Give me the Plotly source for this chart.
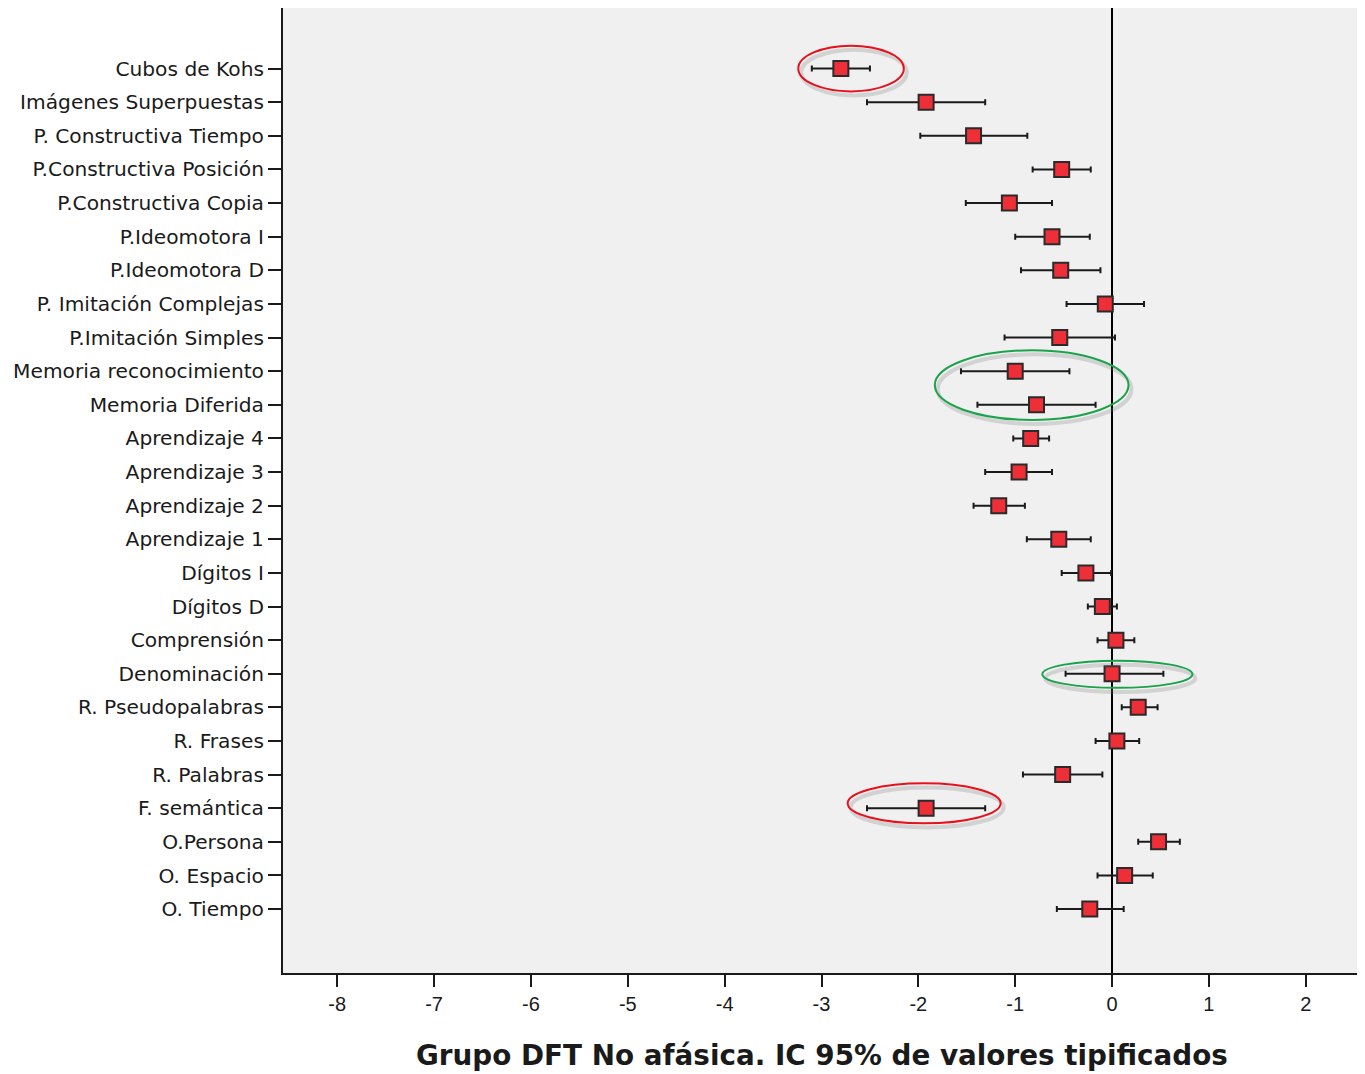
import plotly.graph_objects as go

tests = ["Cubos de Kohs", "Imágenes Superpuestas", "P. Constructiva Tiempo",
         "P.Constructiva Posición", "P.Constructiva Copia", "P.Ideomotora I",
         "P.Ideomotora D", "P. Imitación Complejas", "P.Imitación Simples",
         "Memoria reconocimiento", "Memoria Diferida", "Aprendizaje 4",
         "Aprendizaje 3", "Aprendizaje 2", "Aprendizaje 1", "Dígitos I",
         "Dígitos D", "Comprensión", "Denominación", "R. Pseudopalabras",
         "R. Frases", "R. Palabras", "F. semántica", "O.Persona",
         "O. Espacio", "O. Tiempo"]

means = [-2.80, -1.92, -1.43, -0.52, -1.06, -0.62, -0.53, -0.07, -0.54,
         -1.00, -0.78, -0.84, -0.96, -1.17, -0.55, -0.27, -0.10, 0.04,
         0.00, 0.27, 0.05, -0.51, -1.92, 0.48, 0.13, -0.23]
ci_low = [-3.10, -2.53, -1.98, -0.82, -1.51, -1.00, -0.94, -0.47, -1.11,
          -1.56, -1.39, -1.02, -1.31, -1.43, -0.88, -0.52, -0.25, -0.15,
          -0.48, 0.10, -0.17, -0.92, -2.53, 0.27, -0.15, -0.57]
ci_high = [-2.50, -1.31, -0.875, -0.22, -0.62, -0.23, -0.12, 0.33, 0.03,
           -0.44, -0.17, -0.65, -0.62, -0.90, -0.22, -0.01, 0.05, 0.23,
           0.53, 0.47, 0.28, -0.10, -1.31, 0.70, 0.42, 0.12]

x_ticks = [-8, -7, -6, -5, -4, -3, -2, -1, 0, 1, 2]

# highlight ellipses: (first row, last row, x0, x1, color)
highlights = [
    ("Cubos de Kohs", "Cubos de Kohs", -3.24, -2.15, "#e8101a"),
    ("Memoria reconocimiento", "Memoria Diferida", -1.83, 0.17, "#1aa34a"),
    ("Denominación", "Denominación", -0.72, 0.83, "#1aa34a"),
    ("F. semántica", "F. semántica", -2.73, -1.15, "#e8101a"),
]
highlight_pad = {  # vertical padding (rows) above / below
    "Cubos de Kohs": (0.68, 0.68),
    "Memoria reconocimiento": (0.62, 0.45),
    "Denominación": (0.39, 0.42),
    "F. semántica": (0.74, 0.45),
}

ypos = list(range(len(tests)))
err_plus = [h - m for h, m in zip(ci_high, means)]
err_minus = [m - l for m, l in zip(means, ci_low)]

fig = go.Figure()
fig.add_trace(go.Scatter(
    x=means, y=ypos, mode="markers",
    marker=dict(symbol="square", size=15, color="#ee2f37",
                line=dict(color="#2a2a2a", width=2)),
    error_x=dict(type="data", array=err_plus, arrayminus=err_minus,
                 color="#1a1a1a", thickness=2, width=3),
    showlegend=False, hoverinfo="x+y",
))

shapes = []
for first, last, x0, x1, col in highlights:
    i0 = tests.index(first)
    i1 = tests.index(last)
    up, down = highlight_pad[first]
    y0 = i0 - up
    y1 = i1 + down
    # soft shadow
    shapes.append(dict(type="circle", xref="x", yref="y",
                       x0=x0 + 0.03, x1=x1 + 0.03, y0=y0 + 0.12, y1=y1 + 0.12,
                       line=dict(color="rgba(120,120,120,0.25)", width=4),
                       layer="above"))
    shapes.append(dict(type="circle", xref="x", yref="y",
                       x0=x0, x1=x1, y0=y0, y1=y1,
                       line=dict(color=col, width=2), layer="above"))

fig.update_layout(
    width=1357, height=1066,
    margin=dict(l=275, r=5, t=0, b=101),
    paper_bgcolor="white", plot_bgcolor="#f0f0f0",
    font=dict(family="DejaVu Sans", color="#1a1a1a"),
    shapes=shapes,
    xaxis=dict(range=[-8.56, 2.56], tickvals=x_ticks,
               ticktext=[str(v) for v in x_ticks],
               ticks="outside", ticklen=12, tickwidth=2, tickcolor="#1a1a1a",
               tickfont=dict(size=20, family="Liberation Sans"),
               showgrid=False, zeroline=True, zerolinecolor="#000000",
               zerolinewidth=2, showline=True, linecolor="#1a1a1a",
               linewidth=2, mirror=True, automargin=False),
    yaxis=dict(range=[len(tests) - 1 + 1.9, -1.8], tickvals=ypos,
               ticktext=tests, ticks="outside", ticklen=13, tickwidth=2,
               tickcolor="#1a1a1a", tickfont=dict(size=20.2, family="DejaVu Sans"),
               showgrid=False, zeroline=False, showline=True, automargin=False,
               linecolor="#1a1a1a", linewidth=2, mirror=True, ticklabelstandoff=0),
    annotations=[dict(text="<b>Grupo DFT No afásica. IC 95% de valores tipificados</b>",
                      xref="paper", yref="paper", x=0.5, y=-0.086,
                      xanchor="center", yanchor="middle", showarrow=False,
                      font=dict(size=27.8, family="DejaVu Sans", color="#1a1a1a"))],
)

fig.write_html("out.html")
